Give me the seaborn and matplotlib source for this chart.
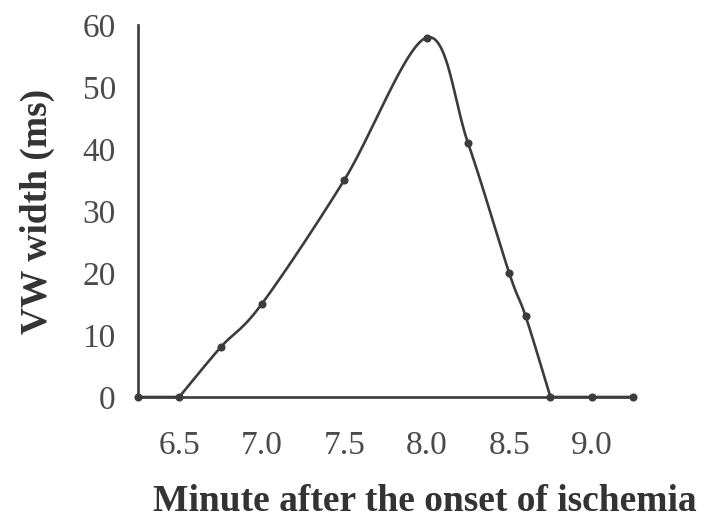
import numpy as np
import pandas as pd
import matplotlib
matplotlib.use("Agg")
import matplotlib.pyplot as plt
import seaborn as sns

# Data
minutes = [6.25, 6.5, 6.75, 7.0, 7.5, 8.0, 8.25, 8.5, 8.6, 8.75, 9.0, 9.25]
vw_width = [0, 0, 8, 15, 35, 58, 41, 20, 13, 0, 0, 0]
x_ticks = [6.5, 7.0, 7.5, 8.0, 8.5, 9.0]
x_tick_labels = ["6.5", "7.0", "7.5", "8.0", "8.5", "9.0"]
y_ticks = [0, 10, 20, 30, 40, 50, 60]
x_label = "Minute after the onset of ischemia"
y_label = "VW width (ms)"

df = pd.DataFrame({"minute": minutes, "width": vw_width})


def bezier_run(P, n=40):
    """Smoothed (Bezier) path through the points P, clamped at both ends."""
    out = []
    m = len(P)
    for i in range(m - 1):
        p0 = P[i - 1] if i > 0 else P[i]
        p1 = P[i]
        p2 = P[i + 1]
        p3 = P[i + 2] if i + 2 < m else P[i + 1]
        c1 = p1 + (p2 - p0) / 6.0
        c2 = p2 - (p3 - p1) / 6.0
        t = np.linspace(0, 1, n)[:, None]
        seg = ((1 - t) ** 3) * p1 + 3 * ((1 - t) ** 2) * t * c1 \
            + 3 * (1 - t) * t ** 2 * c2 + t ** 3 * p2
        out.append(seg)
    return np.vstack(out)


def smooth_line(xs, ys):
    """Smooth the curve, treating runs that sit on zero as flat pieces."""
    P = np.column_stack([np.asarray(xs, float), np.asarray(ys, float)])
    zero_idx = [i for i, v in enumerate(ys) if v == 0]
    bounds = sorted(set([0] + zero_idx + [len(P) - 1]))
    pieces = []
    for a, b in zip(bounds[:-1], bounds[1:]):
        pieces.append(bezier_run(P[a:b + 1]))
    out = np.vstack(pieces)
    return out[:, 0], out[:, 1]


sx, sy = smooth_line(df["minute"], df["width"])
curve = pd.DataFrame({"minute": sx, "width": sy})

sns.set_style("white")
plt.rcParams["font.family"] = ["Liberation Serif", "DejaVu Serif"]

fig = plt.figure(figsize=(7.06, 5.24), dpi=100)
ax = fig.add_axes([0.1955, 0.2424, 0.701, 0.7096])

line_color = "#3a3d3c"
sns.lineplot(data=curve, x="minute", y="width", ax=ax, color=line_color,
             linewidth=1.9, sort=False, estimator=None, clip_on=False)
sns.scatterplot(data=df, x="minute", y="width", ax=ax, color=line_color,
                s=34, edgecolor=line_color, linewidth=0, clip_on=False, zorder=5)

ax.set_xlim(6.25, 9.25)
ax.set_ylim(0, 60)
ax.set_xticks(x_ticks)
ax.set_xticklabels(x_tick_labels)
ax.set_yticks(y_ticks)

for side in ["top", "right"]:
    ax.spines[side].set_visible(False)
for side in ["left", "bottom"]:
    ax.spines[side].set_color(line_color)
    ax.spines[side].set_linewidth(1.9)

ax.tick_params(axis="both", direction="out", length=5, width=1.5,
               color=line_color, labelsize=24, labelcolor="#4a4a4a")
ax.tick_params(axis="x", pad=19)
ax.tick_params(axis="y", pad=11)

ax.set_xlabel(x_label, fontsize=27, fontweight="bold", color="#333333", labelpad=17)
ax.xaxis.label.set_x(0.58)
ax.set_ylabel(y_label, fontsize=27, fontweight="bold", color="#333333", labelpad=20)

fig.savefig("out.png", dpi=100, facecolor="white")
